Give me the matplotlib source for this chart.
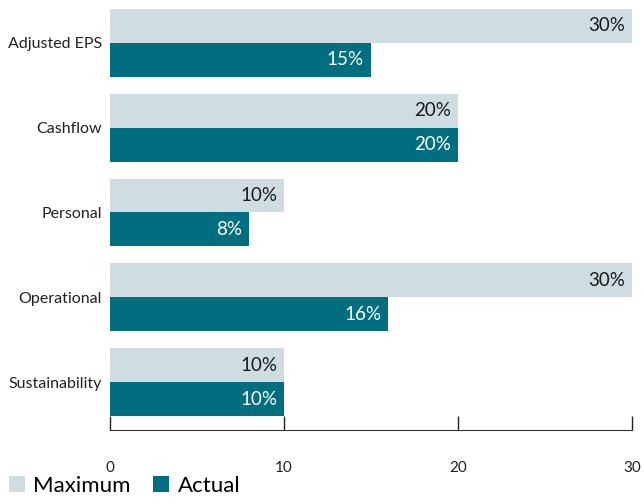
import matplotlib.pyplot as plt
import numpy as np

categories = ["Adjusted EPS", "Cashflow", "Personal", "Operational", "Sustainability"]
maximum = [30, 20, 10, 30, 10]
actual = [15, 20, 8, 16, 10]

light = "#cfdce2"
teal = "#006e7f"

plt.rcParams["font.family"] = ["Lato", "DejaVu Sans"]

fig = plt.figure(figsize=(6.44, 5.03), dpi=100)
ax = fig.add_axes([110 / 644, 73 / 503, 522 / 644, 430 / 503])

y = np.arange(len(categories))
h = 0.4
b1 = ax.barh(y - h / 2, maximum, height=h, color=light, label="Maximum")
b2 = ax.barh(y + h / 2, actual, height=h, color=teal, label="Actual")

for rect, v in zip(b1, maximum):
    ax.text(v - 0.4, rect.get_y() + rect.get_height() / 2, f"{v}%",
            ha="right", va="center", color="#1a1a1a", fontsize=13.5)
for rect, v in zip(b2, actual):
    ax.text(v - 0.4, rect.get_y() + rect.get_height() / 2, f"{v}%",
            ha="right", va="center", color="white", fontsize=13.5)

ax.set_xlim(0, 30)
ax.set_ylim(4.565, -0.506)
ax.set_yticks(y)
ax.set_yticklabels(categories, fontsize=11.5, color="#222222")
ax.tick_params(axis="y", length=0, pad=6)
ax.set_xticks([0, 10, 20, 30])
ax.tick_params(axis="x", direction="in", length=10, width=1, pad=22,
               labelsize=11, colors="#222222")
for s in ["top", "right", "left"]:
    ax.spines[s].set_visible(False)
ax.spines["bottom"].set_color("#333333")

fig.legend(handles=[b1, b2], loc="lower left", bbox_to_anchor=(-0.017, -0.025),
           ncol=2, frameon=False, fontsize=16, handlelength=0.7, handleheight=0.7,
           handletextpad=0.4, columnspacing=1.0)

fig.savefig("out.png", dpi=100)
